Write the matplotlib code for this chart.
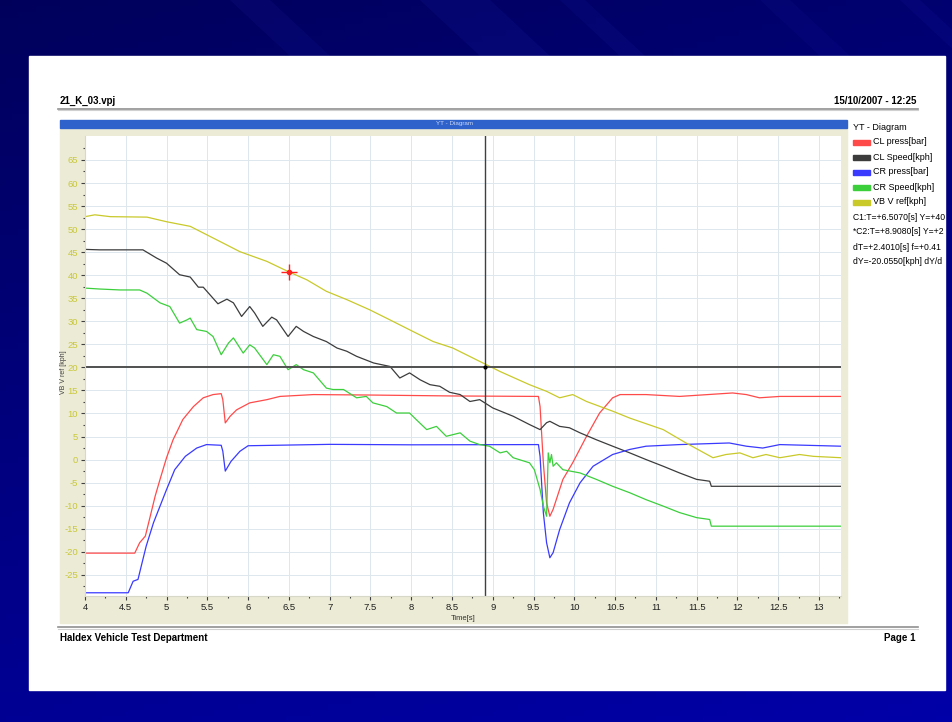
import numpy as np
import matplotlib
matplotlib.use("Agg")
import matplotlib.pyplot as plt
from matplotlib.patches import Rectangle, Polygon

# --- datos (tiempo en s, valor en eje VB V ref) ---
red_t = [4.0, 4.61, 4.67, 4.74, 4.80, 4.86, 4.92, 5.00, 5.08, 5.20, 5.33, 5.45, 5.57, 5.67, 5.69,
         5.72, 5.78, 5.86, 6.02, 6.23, 6.39, 6.80, 7.5, 8.5, 9.56, 9.58, 9.62, 9.66, 9.70, 9.74,
         9.86, 9.98, 10.15, 10.31, 10.47, 10.56, 10.88, 11.29, 11.94, 12.11, 12.27, 12.52, 13.27]
red_v = [-20.3, -20.3, -18.05, -16.6, -12.3, -7.95, -4.3, 0.4, 4.3, 8.7, 11.5, 13.4, 14.1, 14.3, 13.0,
         7.95, 9.4, 10.8, 12.3, 13.0, 13.7, 14.1, 14.0, 13.8, 13.7, 11.5, -0.7, -9.4, -12.3, -10.8,
         -4.3, -0.7, 5.05, 10.1, 13.4, 14.1, 14.1, 13.7, 14.45, 14.1, 13.4, 13.7, 13.7]

black_t = [4.0, 4.18, 4.43, 4.71, 4.88, 5.00, 5.16, 5.29, 5.39, 5.45, 5.55, 5.63, 5.74, 5.82, 5.92,
           6.02, 6.08, 6.18, 6.29, 6.35, 6.49, 6.59, 6.68, 6.80, 6.96, 7.09, 7.21, 7.33, 7.54, 7.74,
           7.86, 7.98, 8.11, 8.23, 8.35, 8.47, 8.60, 8.72, 8.84, 9.00, 9.25, 9.45, 9.58, 9.66, 9.70,
           9.82, 9.94, 10.07, 10.27, 10.47, 10.68, 10.88, 11.09, 11.29, 11.50, 11.66, 11.68, 13.27]
black_v = [45.6, 45.5, 45.5, 45.5, 43.7, 42.6, 40.1, 39.6, 37.4, 37.4, 35.4, 33.8, 34.8, 34.0, 31.05,
           33.2, 31.8, 28.9, 30.9, 30.3, 26.7, 28.9, 27.8, 26.7, 25.6, 24.2, 23.5, 22.4, 20.95, 20.2,
           17.7, 18.8, 17.3, 16.25, 15.9, 14.6, 14.1, 12.6, 13.0, 11.2, 9.4, 7.6, 6.5, 8.0, 8.3,
           7.2, 6.9, 5.8, 4.3, 2.9, 1.45, 0.0, -1.45, -2.9, -4.3, -4.7, -5.8, -5.8]

blue_t = [4.0, 4.53, 4.59, 4.65, 4.69, 4.75, 4.84, 4.92, 5.00, 5.10, 5.23, 5.37, 5.49, 5.67, 5.69,
          5.72, 5.79, 5.90, 6.00, 7.0, 8.0, 9.56, 9.58, 9.62, 9.66, 9.70, 9.74, 9.82, 9.94, 10.07,
          10.23, 10.47, 10.68, 10.88, 11.29, 11.90, 12.11, 12.31, 12.52, 13.27]
blue_v = [-28.9, -28.9, -26.4, -26.0, -23.1, -18.8, -13.7, -10.1, -6.5, -2.2, 0.7, 2.5, 3.25, 3.1, 1.8,
          -2.5, -0.4, 1.8, 3.0, 3.3, 3.2, 3.25, 0.7, -11.5, -18.05, -21.3, -20.2, -15.2, -9.4, -5.05,
          -1.45, 1.1, 2.2, 2.9, 3.25, 3.6, 2.9, 2.5, 3.25, 2.9]

green_t = [4.0, 4.18, 4.43, 4.67, 4.76, 4.92, 5.04, 5.16, 5.25, 5.29, 5.37, 5.49, 5.57, 5.67, 5.76,
           5.82, 5.90, 5.94, 6.02, 6.08, 6.23, 6.31, 6.39, 6.49, 6.59, 6.68, 6.80, 6.96, 7.04, 7.17,
           7.33, 7.45, 7.53, 7.70, 7.82, 7.98, 8.06, 8.19, 8.31, 8.43, 8.60, 8.72, 8.84, 8.96, 9.09,
           9.17, 9.25, 9.45, 9.51, 9.58, 9.62, 9.66, 9.68, 9.70, 9.72, 9.74, 9.78, 9.86, 10.07, 10.27,
           10.47, 10.68, 10.88, 11.09, 11.29, 11.50, 11.66, 11.68, 13.27]
green_v = [37.2, 37.0, 36.8, 36.8, 36.1, 34.0, 33.2, 29.6, 30.3, 30.7, 28.2, 27.8, 26.7, 22.75, 25.3,
           26.4, 24.2, 23.1, 24.9, 24.2, 20.6, 22.75, 22.4, 19.5, 20.6, 19.5, 18.8, 15.5, 15.2, 15.2,
           13.4, 13.7, 12.3, 11.5, 10.1, 10.1, 8.7, 6.5, 7.2, 5.05, 5.8, 4.0, 3.25, 2.9, 1.45,
           1.8, 0.4, -0.7, -2.2, -6.5, -10.1, -12.3, 1.45, -0.7, 1.1, -1.45, -0.7, -2.2, -2.9, -4.3,
           -5.8, -7.2, -8.7, -10.1, -11.5, -12.6, -13.0, -14.45, -14.45]

yellow_t = [4.0, 4.12, 4.31, 4.76, 5.00, 5.29, 5.49, 5.69, 5.90, 6.23, 6.49, 6.72, 6.96, 7.21, 7.49,
            7.74, 8.02, 8.27, 8.51, 8.84, 9.09, 9.45, 9.66, 9.82, 9.98, 10.15, 10.47, 10.68, 11.09,
            11.37, 11.70, 11.86, 12.03, 12.19, 12.35, 12.52, 12.76, 12.93, 13.27]
yellow_v = [52.7, 53.1, 52.7, 52.6, 51.6, 50.6, 48.8, 47.0, 45.1, 43.0, 40.8, 39.0, 36.5, 34.7, 32.5,
            30.3, 27.8, 25.6, 24.2, 21.3, 19.1, 16.25, 14.8, 13.4, 14.1, 12.6, 10.5, 9.0, 6.5,
            3.6, 0.4, 1.1, 1.45, 0.4, 1.1, 0.4, 1.1, 0.7, 0.4]

nombres = ["CL press[bar]", "CL Speed[kph]", "CR press[bar]", "CR Speed[kph]", "VB V ref[kph]"]
colores = ["#ff4a4a", "#3c3c3c", "#3a3aff", "#3ccf3c", "#c9c92a"]

c1_t, c1_v = 6.507, 40.8
c2_t, c2_v = 8.908, 20.0
# lo que se ve de las lineas de cursor (el resto queda fuera de la pagina)
cursor_txt = ["C1:T=+6.5070[s] Y=+40",
              "*C2:T=+8.9080[s] Y=+2",
              "dT=+2.4010[s] f=+0.41",
              "dY=-20.0550[kph] dY/d"]

fuente = ["Liberation Sans Narrow", "Liberation Sans", "DejaVu Sans"]
plt.rcParams['font.family'] = fuente

W, H = 953, 722
fig = plt.figure(figsize=(W / 100, H / 100), dpi=100)

# fondo azul de la diapositiva (coordenadas en pixeles)
bg = fig.add_axes([0, 0, 1, 1])
bg.set_xlim(0, W)
bg.set_ylim(H, 0)
bg.axis('off')
yy, xx = np.mgrid[0:1:120j, 0:1:160j]
grad = np.zeros((120, 160, 3))
grad[..., 2] = 0.36 + 0.22 * yy + 0.08 * xx
bg.imshow(grad, extent=(0, W, H, 0), aspect='auto', zorder=0)
for x0, w, a in [(230, 40, 0.10), (420, 70, 0.12), (560, 25, 0.10), (760, 30, 0.08), (900, 20, 0.10)]:
    bg.add_patch(Polygon([(x0, 0), (x0 + w, 0), (x0 + w + 60, 56), (x0 + 60, 56)],
                         closed=True, color='#3030c0', alpha=a, lw=0, zorder=1))

# pagina blanca
bg.add_patch(Rectangle((29, 56), 916, 634, color='white', zorder=2))
bg.plot([58, 918], [108.5, 108.5], color='#909090', lw=1.2, zorder=3)
bg.plot([58, 918], [110, 110], color='#d0d0d0', lw=0.8, zorder=3)
bg.plot([58, 918], [627, 627], color='#909090', lw=1.2, zorder=3)
bg.plot([58, 918], [628.5, 628.5], color='#d0d0d0', lw=0.8, zorder=3)
bg.text(60, 101, "21_K_03.vpj", fontsize=7, fontweight='bold', ha='left', va='center', zorder=4)
bg.text(916, 101, "15/10/2007 - 12:25", fontsize=7, fontweight='bold', ha='right', va='center', zorder=4)
bg.text(60, 638, "Haldex Vehicle Test Department", fontsize=7, fontweight='bold', ha='left', va='center', zorder=4)
bg.text(916, 638, "Page 1", fontsize=7, fontweight='bold', ha='right', va='center', zorder=4)

# panel del diagrama
bg.add_patch(Rectangle((60, 128), 787, 495, color='#ecebd6', zorder=3))
bg.add_patch(Rectangle((60, 120), 787, 8, color='#3062cc', zorder=3))
bg.text(455, 124, "YT - Diagram", fontsize=4.5, color='#c8d6f4', ha='center', va='center', zorder=4)
bg.text(64, 372, "VB V ref [kph]", fontsize=5, color='#404040', rotation=90, ha='center', va='center', zorder=4)
bg.text(463, 619, "Time[s]", fontsize=5.5, color='#303030', ha='center', va='center', zorder=4)

# leyenda a la derecha
bg.text(853, 127, "YT - Diagram", fontsize=6.5, ha='left', va='center', zorder=4)
for i, (n, c) in enumerate(zip(nombres, colores)):
    y = 142 + 15 * i
    bg.add_patch(Rectangle((853, y - 2.5), 17, 5, color=c, zorder=4))
    bg.text(873, y, n, fontsize=6.5, ha='left', va='center', zorder=4)
for i, s in enumerate(cursor_txt):
    bg.text(853, 217 + 15 * i, s, fontsize=6.2, ha='left', va='center', zorder=4)

# area de trazado
ax = fig.add_axes([85 / W, 1 - 596 / H, 756 / W, 460 / H])
ax.set_facecolor('white')
ax.plot(red_t, red_v, color=colores[0], lw=0.9)
ax.plot(black_t, black_v, color=colores[1], lw=0.9)
ax.plot(blue_t, blue_v, color=colores[2], lw=0.9)
ax.plot(green_t, green_v, color=colores[3], lw=0.9)
ax.plot(yellow_t, yellow_v, color=colores[4], lw=0.9)

ax.axhline(c2_v, color='#505050', lw=1.4)
ax.axvline(c2_t, color='#404040', lw=1.0)
ax.plot([c2_t], [c2_v], 'o', color='black', ms=2)
ax.plot([c1_t], [c1_v], '+', color='#ff2020', ms=11, mew=1.0)
ax.plot([c1_t], [c1_v], 'o', color='#ff2020', ms=3)

ax.set_xlim(4, 13.27)
ax.set_ylim(-29.6, 70.2)
xt = np.arange(4, 13.01, 0.5)
ax.set_xticks(xt)
ax.set_xticklabels([f"{v:g}" for v in xt], fontsize=6.8, color='#202020')
ax.set_xticks(np.arange(4.25, 13.27, 0.5), minor=True)
yt = np.arange(-25, 66, 5)
ax.set_yticks(yt)
ax.set_yticklabels([f"{v:g}" for v in yt], fontsize=6.8, color='#c8c838')
ax.set_yticks(np.arange(-27.5, 70, 5), minor=True)
ax.tick_params(which='major', length=3, width=0.8, color='#404040', pad=2)
ax.tick_params(which='minor', length=1.5, width=0.8, color='#404040')
ax.grid(True, which='major', color='#dde7ee', lw=0.7)
ax.set_axisbelow(True)
for sp in ax.spines.values():
    sp.set_visible(False)
ax.spines['left'].set_visible(True)
ax.spines['left'].set_color('#d8d8c8')
ax.spines['bottom'].set_visible(True)
ax.spines['bottom'].set_color('#d8d8c8')

fig.savefig("out.png", dpi=100)
